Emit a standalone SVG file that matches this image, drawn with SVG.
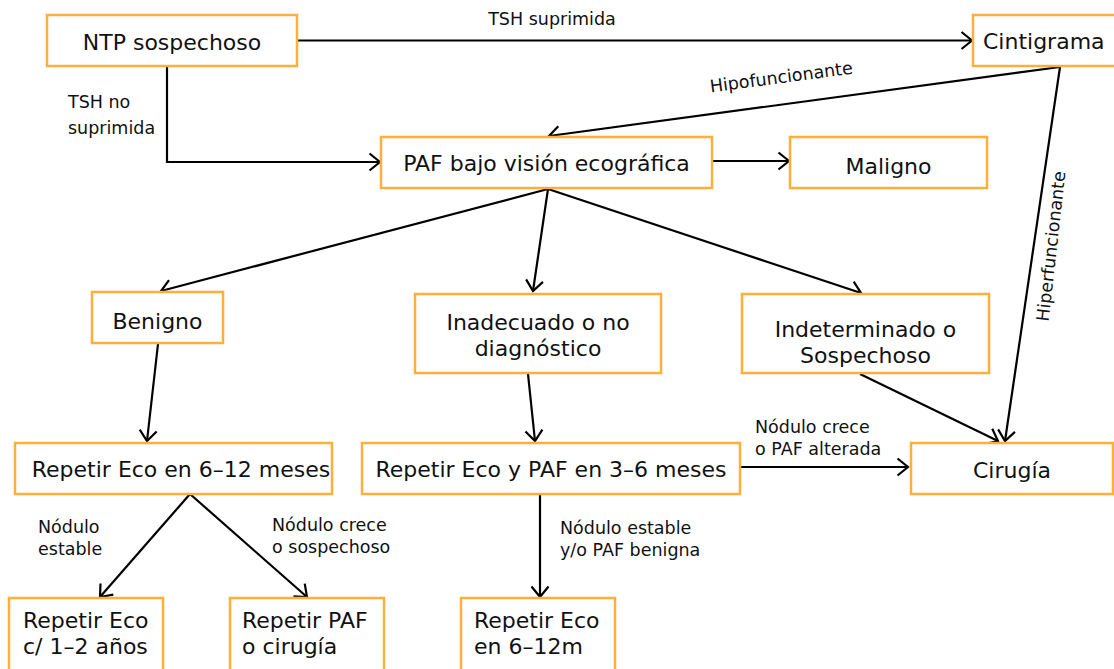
<svg xmlns="http://www.w3.org/2000/svg" width="1114" height="669" viewBox="0 0 1114 669">
<style>
.box{fill:#fff;stroke:#FBB03B;stroke-width:2.5}
.t{font-family:"DejaVu Sans",sans-serif;font-size:22px;fill:#111}
.c{text-anchor:middle}
.l{font-family:"DejaVu Sans",sans-serif;font-size:17.5px;fill:#111}
.e{fill:none;stroke:#000;stroke-width:2.2}
</style>
<defs>
<marker id="a" markerUnits="userSpaceOnUse" viewBox="0 0 14 20" markerWidth="14" markerHeight="20" refX="12" refY="10" orient="auto">
<path d="M1.5,1.5 L12,10 L1.5,18.5" fill="none" stroke="#000" stroke-width="2.2"/>
</marker>
</defs>
<rect width="1114" height="669" fill="#fff"/>
<g id="connectors">
<path class="e" d="M297,40.5 H972" marker-end="url(#a)"/>
<path class="e" d="M167,66 V162 H380" marker-end="url(#a)"/>
<path class="e" d="M1060,67 L549,136" marker-end="url(#a)"/>
<path class="e" d="M1060,67 L1005,441" marker-end="url(#a)"/>
<path class="e" d="M712,161 H789" marker-end="url(#a)"/>
<path class="e" d="M548,189 L161,291" marker-end="url(#a)"/>
<path class="e" d="M548,189 L533,291" marker-end="url(#a)"/>
<path class="e" d="M548,189 L861,293" marker-end="url(#a)"/>
<path class="e" d="M158,344 L147,441" marker-end="url(#a)"/>
<path class="e" d="M528,374 L535,441" marker-end="url(#a)"/>
<path class="e" d="M860,374 L998,441" marker-end="url(#a)"/>
<path class="e" d="M740,467 H908" marker-end="url(#a)"/>
<path class="e" d="M190,494 L100,597" marker-end="url(#a)"/>
<path class="e" d="M190,494 L307,597" marker-end="url(#a)"/>
<path class="e" d="M540,494 V597" marker-end="url(#a)"/>
<text class="l" x="552" y="25" text-anchor="middle">TSH suprimida</text>
<text class="l" x="68" y="108">TSH no</text>
<text class="l" x="68" y="134">suprimida</text>
<text class="l" transform="translate(782,83) rotate(-7.5)" text-anchor="middle">Hipofuncionante</text>
<text class="l" transform="translate(1057,247) rotate(-83.5)" text-anchor="middle">Hiperfuncionante</text>
<text class="l" x="755" y="433">Nódulo crece</text>
<text class="l" x="755" y="455">o PAF alterada</text>
<text class="l" x="38" y="533">Nódulo</text>
<text class="l" x="38" y="555">estable</text>
<text class="l" x="272" y="531">Nódulo crece</text>
<text class="l" x="272" y="553">o sospechoso</text>
<text class="l" x="560" y="534">Nódulo estable</text>
<text class="l" x="560" y="556">y/o PAF benigna</text>
</g>
<g id="ntp"><rect class="box" x="47" y="15" width="250" height="51"/><text class="t c" x="172" y="50">NTP sospechoso</text></g>
<g id="cintigrama"><rect class="box" x="973" y="15" width="150" height="51"/><text class="t" x="983" y="49">Cintigrama</text></g>
<g id="paf"><rect class="box" x="381" y="137" width="331" height="51"/><text class="t c" x="546.5" y="171">PAF bajo visión ecográfica</text></g>
<g id="maligno"><rect class="box" x="790" y="137" width="197" height="51"/><text class="t c" x="888.5" y="174">Maligno</text></g>
<g id="benigno"><rect class="box" x="92" y="292" width="131" height="51"/><text class="t c" x="157.5" y="329">Benigno</text></g>
<g id="inadecuado"><rect class="box" x="415" y="294" width="246" height="79"/><text class="t c" x="538" y="330">Inadecuado o no</text><text class="t c" x="538" y="356">diagnóstico</text></g>
<g id="indeterminado"><rect class="box" x="742" y="294" width="247" height="79"/><text class="t c" x="865.5" y="337">Indeterminado o</text><text class="t c" x="865.5" y="363">Sospechoso</text></g>
<g id="repetir612"><rect class="box" x="15" y="443" width="317" height="51"/><text class="t c" x="181" y="477">Repetir Eco en 6–12 meses</text></g>
<g id="repetirecopaf"><rect class="box" x="362" y="443" width="378" height="51"/><text class="t c" x="551" y="477">Repetir Eco y PAF en 3–6 meses</text></g>
<g id="cirugia"><rect class="box" x="911" y="443" width="202" height="51"/><text class="t c" x="1012" y="478">Cirugía</text></g>
<g id="eco12"><rect class="box" x="9" y="598" width="154" height="80"/><text class="t" x="23" y="628">Repetir Eco</text><text class="t" x="23" y="654">c/ 1–2 años</text></g>
<g id="pafcirugia"><rect class="box" x="230" y="598" width="154" height="80"/><text class="t" x="242" y="628">Repetir PAF</text><text class="t" x="242" y="654">o cirugía</text></g>
<g id="eco612m"><rect class="box" x="461" y="598" width="154" height="80"/><text class="t" x="474" y="628">Repetir Eco</text><text class="t" x="474" y="654">en 6–12m</text></g>
</svg>
